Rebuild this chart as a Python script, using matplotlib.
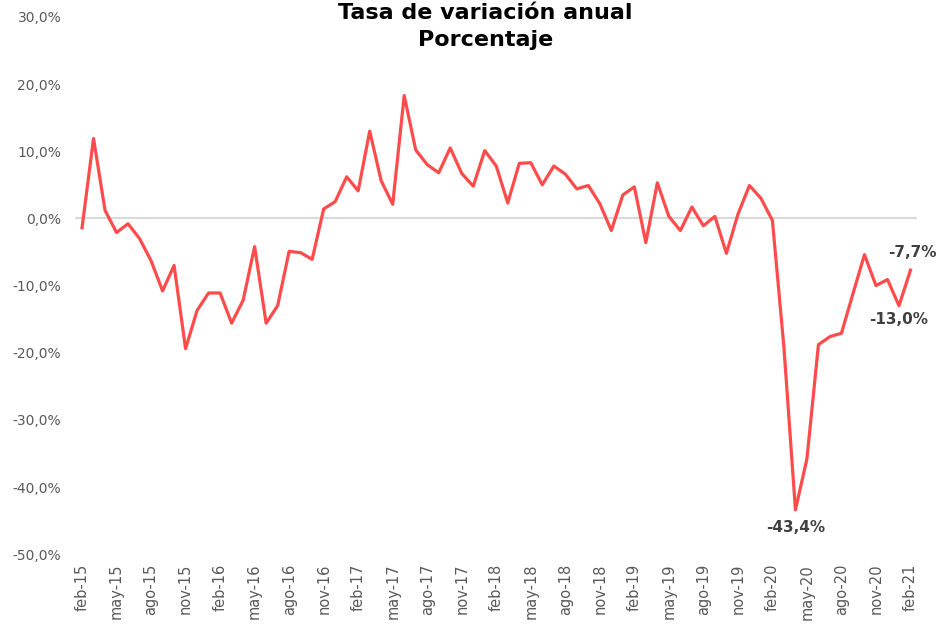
import matplotlib
matplotlib.use("Agg")
import matplotlib.pyplot as plt

meses = ['ene', 'feb', 'mar', 'abr', 'may', 'jun', 'jul', 'ago', 'sep', 'oct', 'nov', 'dic']
# monthly, feb-15 .. feb-21
fechas = []
for i in range(73):
    m = (1 + i) % 12
    a = 15 + (1 + i) // 12
    fechas.append(meses[m] + '-' + str(a))

tasa = [-1.4, 11.9, 1.2, -2.1, -0.8, -3.0, -6.3, -10.8, -7.0, -19.4,
        -13.7, -11.1, -11.1, -15.6, -12.2, -4.2, -15.6, -13.0, -4.9, -5.1,
        -6.1, 1.4, 2.5, 6.2, 4.1, 13.0, 5.6, 2.1, 18.3, 10.2,
        8.0, 6.8, 10.5, 6.7, 4.8, 10.1, 7.8, 2.3, 8.2, 8.3,
        5.0, 7.8, 6.6, 4.4, 4.9, 2.2, -1.8, 3.5, 4.7, -3.6,
        5.3, 0.3, -1.8, 1.7, -1.1, 0.3, -5.2, 0.6, 4.9, 3.0,
        -0.3, -19.2, -43.4, -35.8, -18.8, -17.6, -17.1, -11.2, -5.4, -10.0,
        -9.1, -13.0, -7.7]

etiquetas = {62: ('-43,4%', 0, -13), 71: ('-13,0%', 0, -10), 72: ('-7,7%', 1.5, 13)}

fig = plt.figure(figsize=(9.39, 6.29), dpi=100)
ax = fig.add_axes([0.080, 0.119, 0.897, 0.854])

x = list(range(len(tasa)))
ax.axhline(0, color='#d9d9d9', lw=1.5, zorder=1)
ax.plot(x, tasa, color='#ff4b4b', lw=2.3, zorder=3)

for i, (txt, dx, dy) in etiquetas.items():
    ax.annotate(txt, (i, tasa[i]), xytext=(dx, dy), textcoords='offset points',
                ha='center', va='center', fontsize=11, fontweight='bold', color='#404040')

ax.set_xlim(-0.6, 72.6)
ax.set_ylim(-50, 30)
ax.set_yticks(range(-50, 31, 10))
ax.set_yticklabels([f'{v},0%' for v in range(-50, 31, 10)], fontsize=10, color='#595959')
ax.set_xticks(x[::3])
ax.set_xticklabels(fechas[::3], rotation=90, fontsize=10.5, color='#595959')
ax.tick_params(axis='both', length=0)
ax.tick_params(axis='x', pad=7)
ax.tick_params(axis='y', pad=10)
for s in ax.spines.values():
    s.set_visible(False)

fig.text(0.517, 1 - 13 / 629, 'Tasa de variación anual', ha='center', va='center',
         fontsize=16, fontweight='bold', color='black')
fig.text(0.517, 1 - 40 / 629, 'Porcentaje', ha='center', va='center',
         fontsize=16, fontweight='bold', color='black')

fig.savefig('out.png', dpi=100)
